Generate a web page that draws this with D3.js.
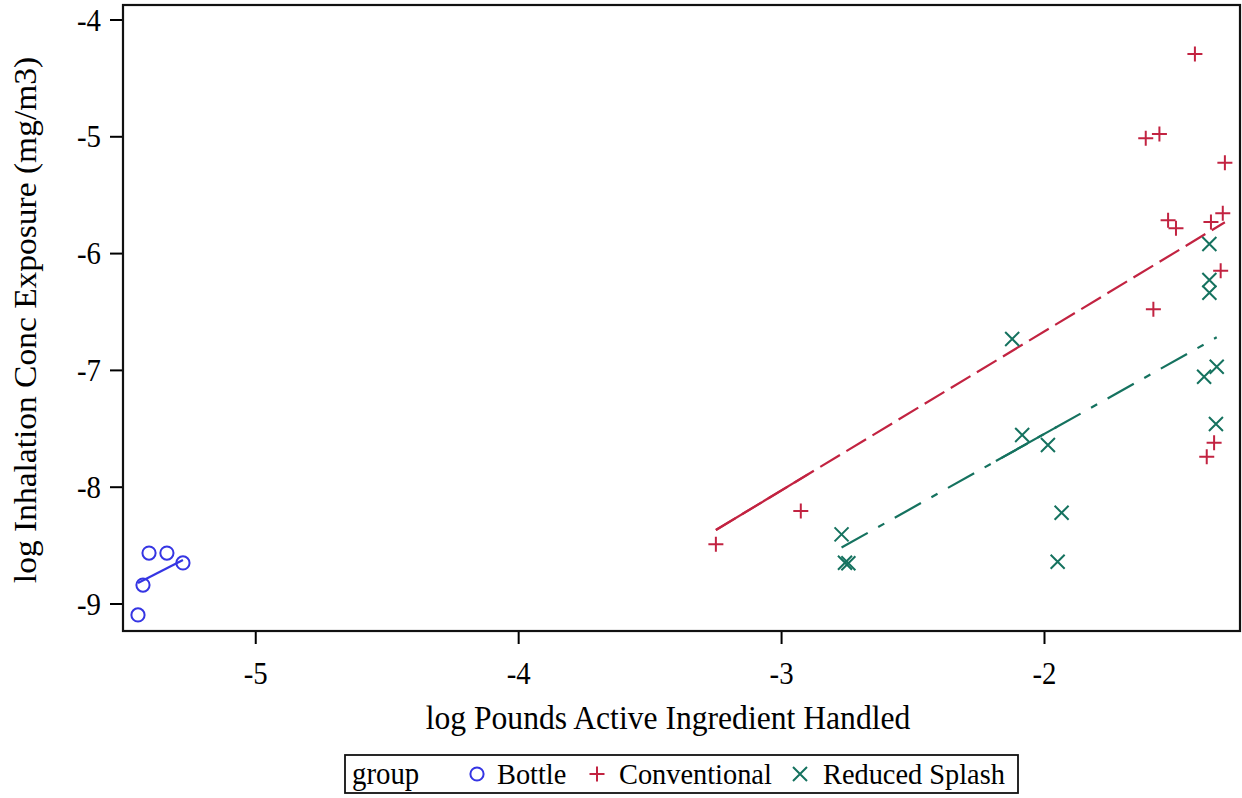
<!DOCTYPE html>
<html>
<head>
<meta charset="utf-8">
<script src="https://cdn.jsdelivr.net/npm/d3@7"></script>
<style>
  html, body { margin: 0; padding: 0; background: #fff; }
  svg { display: block; }
  text { font-family: "Liberation Serif", "Times New Roman", serif; fill: #000; }
</style>
</head>
<body>
<svg id="chart" width="1242" height="798"></svg>
<script>
// ---------------- data ----------------
const groups = ["Bottle", "Conventional", "Reduced Splash"];

const bottleX = [-5.404, -5.336, -5.427, -5.275, -5.446];
const bottleY = [-8.568, -8.568, -8.842, -8.653, -9.098];

const convX = [-1.426, -1.613, -1.561, -1.312, -1.528, -1.498, -1.365, -1.320, -1.328, -1.584, -1.353, -1.381, -2.925, -3.248];
const convY = [-4.295, -5.017, -4.980, -5.226, -5.719, -5.788, -5.734, -5.659, -6.151, -6.481, -7.623, -7.743, -8.208, -8.493];

const redX = [-1.371, -1.371, -1.371, -1.343, -1.391, -1.346, -2.121, -2.083, -1.985, -1.933, -1.948, -2.770, -2.757, -2.744];
const redY = [-5.922, -6.230, -6.339, -6.973, -7.058, -7.463, -6.735, -7.557, -7.643, -8.223, -8.642, -8.408, -8.651, -8.656];

// fitted regression lines (end points)
const bottleFitX = [-5.446, -5.275];
const bottleFitY = [-8.825, -8.628];
const convFitX = [-3.248, -1.312];
const convFitY = [-8.371, -5.736];
const redFitX = [-2.770, -1.343];
const redFitY = [-8.521, -6.721];
// parts of the fit lines that appear unbroken
const convSolidX = [-3.248, -2.898];
const redSolidX = [-2.183, -1.951];

const xTicks = [-5, -4, -3, -2];
const yTicks = [-4, -5, -6, -7, -8, -9];
const xDomain = [-5.503, -1.2545];
const yDomain = [-3.876, -9.2354];

const xTitle = "log Pounds Active Ingredient Handled";
const yTitle = "log Inhalation Conc Exposure (mg/m3)";
const legendTitle = "group";

// ---------------- drawing ----------------
const colors = { "Bottle": "#3535e3", "Conventional": "#c22341", "Reduced Splash": "#15725f" };
const SX = 0.93; // horizontal squeeze of the serif text seen in the reference
const svg = d3.select("#chart");
const L = 123, R = 1240, T = 5, B = 631;
const x = d3.scaleLinear().domain(xDomain).range([L, R]);
const y = d3.scaleLinear().domain(yDomain).range([T, B]);

// axes
const xAxis = d3.axisBottom(x).tickValues(xTicks).tickSize(13).tickSizeOuter(0).tickFormat(d => "-" + Math.abs(d));
const yAxis = d3.axisLeft(y).tickValues(yTicks).tickSize(13).tickSizeOuter(0).tickFormat(d => "-" + Math.abs(d));

const gx = svg.append("g").attr("transform", `translate(0,${B})`).call(xAxis);
gx.select(".domain").remove();
gx.selectAll(".tick line").attr("stroke", "#000").attr("stroke-width", 2);
gx.selectAll(".tick text").attr("font-size", 31).attr("dy", null).attr("y", 0)
  .attr("transform", `translate(0,53) scale(${SX},1)`)
  .style("font-family", "'Liberation Serif', serif").attr("fill", "#000");

const gy = svg.append("g").attr("transform", `translate(${L},0)`).call(yAxis);
gy.select(".domain").remove();
gy.selectAll(".tick line").attr("stroke", "#000").attr("stroke-width", 2);
gy.selectAll(".tick text").attr("font-size", 31).attr("x", 0).attr("dy", "0.34em")
  .attr("transform", `translate(-22,0) scale(${SX},1)`)
  .style("font-family", "'Liberation Serif', serif").attr("fill", "#000");

// frame
svg.append("rect").attr("x", L).attr("y", T).attr("width", R - L).attr("height", B - T)
  .attr("fill", "none").attr("stroke", "#111").attr("stroke-width", 2.2);

// titles
svg.append("text").attr("transform", `translate(668,729) scale(${SX},1)`).attr("text-anchor", "middle")
  .attr("font-size", 34).text(xTitle);
svg.append("text").attr("transform", `translate(36,320) rotate(-90) scale(1,${SX})`).attr("text-anchor", "middle")
  .attr("font-size", 33.5).text(yTitle);

// fit lines
const plot = svg.append("g");
function fitLine(fx, fy, color, dash) {
  plot.append("line")
    .attr("x1", x(fx[0])).attr("y1", y(fy[0])).attr("x2", x(fx[1])).attr("y2", y(fy[1]))
    .attr("stroke", color).attr("stroke-width", 2.2).attr("stroke-dasharray", dash);
}
function solidPart(fx, fy, sx, color) {
  const f = d3.scaleLinear().domain(fx).range(fy);
  plot.append("line")
    .attr("x1", x(sx[0])).attr("y1", y(f(sx[0]))).attr("x2", x(sx[1])).attr("y2", y(f(sx[1])))
    .attr("stroke", color).attr("stroke-width", 2.2);
}
fitLine(bottleFitX, bottleFitY, colors["Bottle"], null);
fitLine(convFitX, convFitY, colors["Conventional"], "23 7.5");
solidPart(convFitX, convFitY, convSolidX, colors["Conventional"]);
fitLine(redFitX, redFitY, colors["Reduced Splash"], "30 12 7 12");
solidPart(redFitX, redFitY, redSolidX, colors["Reduced Splash"]);

// markers
function circleM(g, cx, cy, c) {
  g.append("circle").attr("cx", cx).attr("cy", cy).attr("r", 6.6)
    .attr("fill", "none").attr("stroke", c).attr("stroke-width", 2);
}
function plusM(g, cx, cy, c, s = 7.5) {
  g.append("path").attr("d", `M${cx - s},${cy}H${cx + s}M${cx},${cy - s}V${cy + s}`)
    .attr("stroke", c).attr("stroke-width", 2).attr("fill", "none");
}
function crossM(g, cx, cy, c, s = 7) {
  g.append("path").attr("d", `M${cx - s},${cy - s}L${cx + s},${cy + s}M${cx - s},${cy + s}L${cx + s},${cy - s}`)
    .attr("stroke", c).attr("stroke-width", 2).attr("fill", "none");
}
bottleX.forEach((v, i) => circleM(plot, x(v), y(bottleY[i]), colors["Bottle"]));
convX.forEach((v, i) => plusM(plot, x(v), y(convY[i]), colors["Conventional"]));
redX.forEach((v, i) => crossM(plot, x(v), y(redY[i]), colors["Reduced Splash"]));

// legend
const lg = svg.append("g");
lg.append("rect").attr("x", 345).attr("y", 755).attr("width", 673).attr("height", 38)
  .attr("fill", "#fff").attr("stroke", "#111").attr("stroke-width", 1.8);
lg.append("text").attr("transform", `translate(352,784) scale(${SX},1)`).attr("font-size", 31).text(legendTitle);
const legX = [477, 597, 800];
const legTextX = [497, 619, 823];
groups.forEach((gname, i) => {
  if (i === 0) circleM(lg, legX[i], 774, colors[gname]);
  if (i === 1) plusM(lg, legX[i], 774, colors[gname]);
  if (i === 2) crossM(lg, legX[i], 774, colors[gname]);
  lg.append("text").attr("transform", `translate(${legTextX[i]},784) scale(${SX},1)`)
    .attr("font-size", 30.5).text(gname);
});
</script>
</body>
</html>
